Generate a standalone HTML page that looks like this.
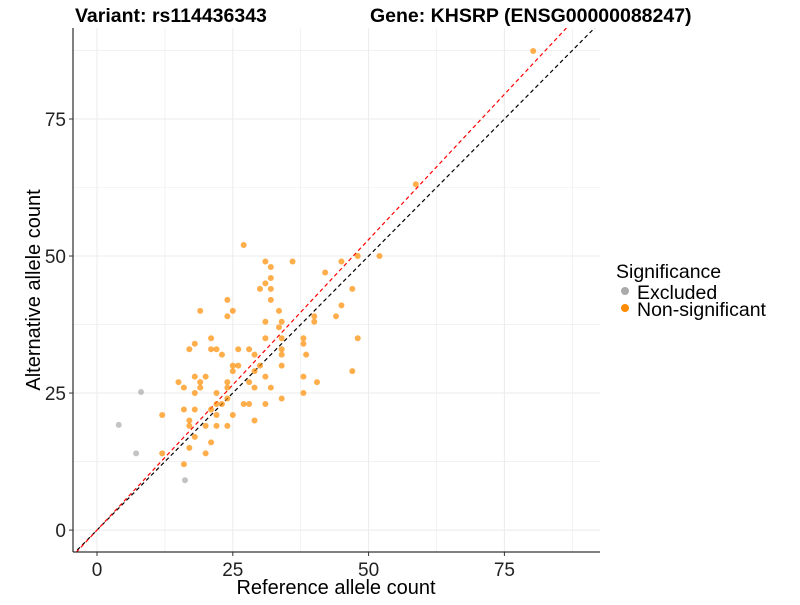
<!DOCTYPE html>
<html><head><meta charset="utf-8"><style>
body{margin:0;background:#fff;font-family:"Liberation Sans",Arial,sans-serif}
svg text{font-family:"Liberation Sans",Arial,sans-serif}
</style></head><body>
<svg id="chart" width="800" height="600" viewBox="0 0 800 600">
<text x="75" y="22" font-size="19.5" font-weight="bold">Variant: rs114436343</text>
<text x="370" y="22" font-size="19.5" font-weight="bold">Gene: KHSRP (ENSG00000088247)</text>
<g id="grid"></g>
<g id="lines"></g>
<g id="points"></g>
<line x1="73" y1="28" x2="73" y2="552" stroke="#000" stroke-width="1"/>
<line x1="73" y1="552" x2="600" y2="552" stroke="#000" stroke-width="1"/>
<g id="ticks"></g>
<text x="336" y="594" font-size="20" text-anchor="middle">Reference allele count</text>
<text transform="translate(40,290) rotate(-90)" font-size="20" text-anchor="middle">Alternative allele count</text>
<g>
<text x="616" y="278" font-size="19.5">Significance</text>
<circle cx="625" cy="291" r="4" fill="#aaaaaa"/>
<text x="637" y="299" font-size="19.5">Excluded</text>
<circle cx="625" cy="308" r="4" fill="#ff8c00"/>
<text x="637" y="316" font-size="19.5">Non-significant</text>
</g>
</svg>
<script>
const xTicks=[0,25,50,75];
const yTicks=[0,25,50,75];
const orangeX=[27,24,19,25,24,21,18,17,21,22,26,23,25,26,25,18,20,15,19,24,16,19,24,18,22,24,27,22,23,12,16,18,21,22,25,17,17,20,22,24,18,21,12,17,20,16,
31,32,36,45,48,52,42,32,31,30,32,32,47,33.5,45,40,44,31,34,40,33.5,31,34,38,48,38,28,34,29,34,38.5,30,34,29,47,31,38,28,40.5,29,32,38,34,28,31,29,80.3,58.7];
const orangeY=[52,42,40,40,39,35,34,33,33,33,33,32,30,30,29,28,28,27,27,27,26,26,26,25,25,24,23,23,23,21,22,22,22,21,21,20,19,19,19,19,17,16,14,15,14,12,
49,48,49,49,50,50,47,46,45,44,44,42,44,40,41,39,39,38,38,38,37,35,35,35,35,34,33,33,32,32,32,30,30,29,29,28,28,27,27,26,26,25,24,23,23,20,87.4,63.1];
const grayX=[8.1,4,7.2,16.2];
const grayY=[25.2,19.2,14,9.1];
const redSlope=1.06;
const ns="http://www.w3.org/2000/svg";
const X0=73,X1=600,Y0=552,Y1=28,xmin=-4.42,xmax=92.6,ymin=-4.0,ymax=91.6;
const sx=v=>X0+(v-xmin)/(xmax-xmin)*(X1-X0);
const sy=v=>Y0-(v-ymin)/(ymax-ymin)*(Y0-Y1);
function mk(tag,a,parent){const e=document.createElementNS(ns,tag);for(const k in a)e.setAttribute(k,a[k]);document.getElementById(parent).appendChild(e);return e;}
const grid=[];
for(let v=0;v<=87.5;v+=12.5)grid.push(v);
grid.forEach(v=>{
 const major=v%25===0;
 let l=mk('line',{x1:sx(v),x2:sx(v),y1:Y1,y2:Y0,stroke:'#ebebeb','stroke-width':major?1:0.6},'grid');
 
 
 l=mk('line',{x1:X0,x2:X1,y1:sy(v),y2:sy(v),stroke:'#ebebeb','stroke-width':major?1:0.6},'grid');
 
 
});
xTicks.forEach(v=>{
 const t=mk('text',{x:sx(v),y:576,'font-size':19,'text-anchor':'middle',fill:'#222'},'ticks');t.textContent=v;
 
 
 const k=mk('line',{x1:sx(v),x2:sx(v),y1:552,y2:556,stroke:'#333'},'ticks');
 
 
});
yTicks.forEach(v=>{
 const t=mk('text',{x:66,y:sy(v)+7,'font-size':19,'text-anchor':'end',fill:'#222'},'ticks');t.textContent=v;
 
 
 const k=mk('line',{x1:69,x2:73,y1:sy(v),y2:sy(v),stroke:'#333'},'ticks');
 
 
});
const cp=mk('clipPath',{id:'clip'},'lines');
const r=document.createElementNS(ns,'rect');r.setAttribute('x',X0);r.setAttribute('y',Y1);r.setAttribute('width',X1-X0);r.setAttribute('height',Y0-Y1);cp.appendChild(r);
document.getElementById('lines').setAttribute('clip-path','url(#clip)');
let bl=mk('line',{x1:sx(-10),y1:sy(-10),x2:sx(100),y2:sy(100),stroke:'#000','stroke-width':1.2,'stroke-dasharray':'4,3'},'lines');


let rl=mk('line',{x1:sx(-10),y1:sy(-10*redSlope),x2:sx(100),y2:sy(100*redSlope),stroke:'#ff0000','stroke-width':1.2,'stroke-dasharray':'4,3'},'lines');


grayX.forEach((v,i)=>{
 const c=mk('circle',{cx:sx(v),cy:sy(grayY[i]),r:3,fill:'#aaaaaa','fill-opacity':0.7},'points');
 
 
});
orangeX.forEach((v,i)=>{
 const c=mk('circle',{cx:sx(v),cy:sy(orangeY[i]),r:3,fill:'#ff8c00','fill-opacity':0.7},'points');
 
 
});
</script>
</body></html>
